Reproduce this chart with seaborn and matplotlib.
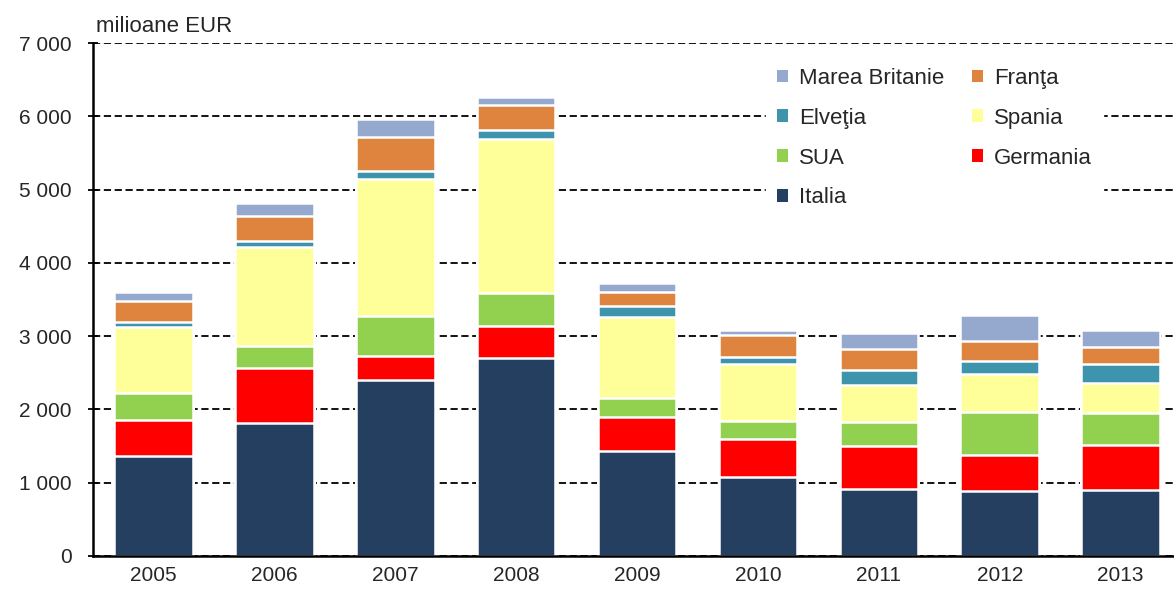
import numpy as np
import pandas as pd
import matplotlib
matplotlib.use("Agg")
import matplotlib.pyplot as plt
import seaborn as sns
from matplotlib.patches import Patch
from matplotlib.ticker import FuncFormatter, MultipleLocator

# -------------------------------
# date (milioane EUR)
# -------------------------------
ani = ["2005", "2006", "2007", "2008", "2009", "2010", "2011", "2012", "2013"]

italia = [1370, 1810, 2400, 2705, 1435, 1075, 915, 885, 900]
germania = [480, 760, 330, 430, 465, 520, 590, 490, 610]
sua = [370, 290, 545, 455, 250, 250, 330, 595, 445]
spania = [910, 1360, 1870, 2105, 1115, 775, 500, 515, 400]
elvetia = [60, 75, 115, 115, 145, 90, 205, 175, 260]
franta = [290, 350, 460, 340, 190, 300, 290, 280, 230]
marea_britanie = [120, 165, 240, 110, 130, 80, 210, 350, 235]

serii = ["Italia", "Germania", "SUA", "Spania", "Elveţia", "Franţa", "Marea Britanie"]
valori = [italia, germania, sua, spania, elvetia, franta, marea_britanie]
culori = ["#243F60", "#FF0000", "#92D050", "#FFFF99", "#3E93AD", "#DE843E", "#95A9CF"]

df = pd.DataFrame(dict(zip(serii, valori)), index=ani)
cum = df.cumsum(axis=1)

# -------------------------------
# grafic
# -------------------------------
sns.set_style("white")
plt.rcParams["font.family"] = ["Liberation Sans", "DejaVu Sans"]

fig = plt.figure(figsize=(11.74, 5.94), dpi=100)
ax = fig.add_axes([0.0792, 0.064, 0.9268, 0.8636])

ax.set_axisbelow(True)
ax.yaxis.grid(True, linestyle=(0, (4, 2)), color="black", linewidth=1.3)

# bare suprapuse (cumulat), de sus in jos
for nume, culoare in zip(reversed(serii), reversed(culori)):
    sns.barplot(x=cum.index, y=cum[nume].values, color=culoare, width=0.65,
                edgecolor="white", linewidth=1.8, saturation=1, ax=ax, zorder=2)

ax.set_xlim(-0.5, 8.5)
ax.set_ylim(0, 7000)
ax.yaxis.set_major_locator(MultipleLocator(1000))
ax.yaxis.set_major_formatter(FuncFormatter(lambda v, p: f"{int(v):,}".replace(",", " ")))

ax.set_xticks(np.arange(len(ani)))
ax.set_xticklabels(ani)
ax.set_xticks(np.arange(len(ani) - 1) + 0.5, minor=True)
ax.tick_params(axis="x", which="major", length=0, labelsize=15, pad=7)
ax.tick_params(axis="x", which="minor", length=8, width=1.3, direction="out", color="black")
ax.tick_params(axis="y", length=7, width=1.3, direction="inout", color="black",
               labelsize=15, left=True, pad=12)

for s in ["top", "right"]:
    ax.spines[s].set_visible(False)
for s in ["left", "bottom"]:
    ax.spines[s].set_color("black")
    ax.spines[s].set_linewidth(1.8)

ax.set_xlabel("")
ax.set_ylabel("")
ax.text(0.003, 1.012, "milioane EUR", transform=ax.transAxes, fontsize=16,
        ha="left", va="bottom")

# legenda (2 coloane)
h = {n: Patch(facecolor=c, edgecolor="none") for n, c in zip(serii, culori)}
ordine = ["Marea Britanie", "Elveţia", "SUA", "Italia", "Franţa", "Spania", "Germania"]
leg = ax.legend([h[n] for n in ordine], ordine, ncol=2, loc="upper left",
                bbox_to_anchor=(0.608, 0.995), frameon=True, fontsize=16,
                handlelength=0.5, handleheight=0.5, handletextpad=0.5,
                columnspacing=1.25, labelspacing=0.85, borderpad=0.5)
leg.get_frame().set_edgecolor("white")
leg.get_frame().set_facecolor("white")
leg.get_frame().set_alpha(1)

plt.savefig("out.png", dpi=100)
